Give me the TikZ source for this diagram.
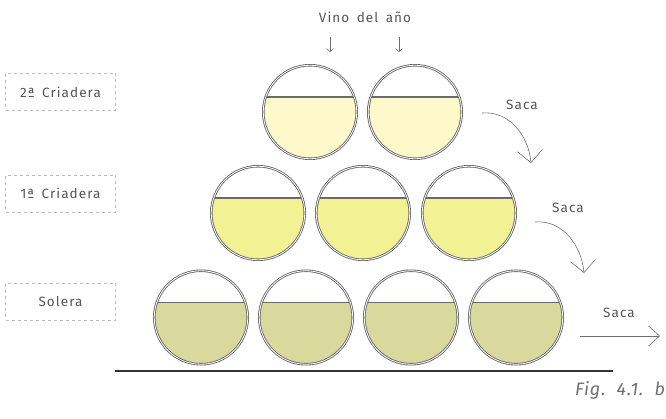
\documentclass[tikz,border=0pt]{standalone}
\usepackage{fontspec}
\setmainfont{Fira Sans}
\newfontfamily\lblfam[LetterSpace=8,WordSpace=1.6]{Fira Sans}
\usetikzlibrary{arrows.meta}
\definecolor{txt}{HTML}{555555}
\definecolor{rim}{HTML}{666666}
\definecolor{chordc}{HTML}{6A6A6A}
\definecolor{arrc}{HTML}{707070}
\definecolor{winetop}{HTML}{FDF9CB}
\definecolor{winemid}{HTML}{F2F193}
\definecolor{winebot}{HTML}{D9D99D}
\definecolor{dashc}{HTML}{BBBBBB}
\newcommand{\lblfont}{\lblfam\fontsize{13.5}{16}\selectfont}
\tikzset{
  barrel/.style={circle, minimum size=93.5pt, inner sep=0pt, outer sep=0pt,
    draw=rim, line width=0.85pt, double=white, double distance=0.8pt,
    path picture={
      \fill[#1] ([yshift=15pt]path picture bounding box.west) rectangle (path picture bounding box.south east);
      \draw[chordc, line width=1.4pt] ([yshift=15pt]path picture bounding box.west) -- ([yshift=15pt]path picture bounding box.east);
    }},
  levelbox/.style={draw=dashc, dash pattern=on 3pt off 3pt, line width=0.8pt,
    minimum width=110pt, minimum height=37pt, inner sep=0pt, text=txt, font=\lblfont},
  lbl/.style={text=txt, font=\lblfont, inner sep=0pt},
  saca/.style={draw=arrc, line width=0.6pt, -{Straight Barb[length=12pt, width=25pt, line width=0.6pt]}},
  small/.style={draw=arrc, line width=0.6pt, -{Straight Barb[length=3pt, width=7pt, line width=0.6pt]}}
}
\begin{document}
\begin{tikzpicture}[x=1pt,y=1pt]
\useasboundingbox (0,0) rectangle (666,-419);
% level boxes
\node[levelbox] (c2) at (60.5,-92) {2ª Criadera};
\node[levelbox] (c1) at (60.5,-193.5) {1ª Criadera};
\node[levelbox] (sol) at (60.5,-301.5) {Solera};
% barrels
\node[barrel=winetop] (t1) at (310,-112) {};
\node[barrel=winetop] (t2) at (415,-112) {};
\node[barrel=winemid] (m1) at (258,-213) {};
\node[barrel=winemid] (m2) at (363,-213) {};
\node[barrel=winemid] (m3) at (469,-213) {};
\node[barrel=winebot] (b1) at (201,-317.5) {};
\node[barrel=winebot] (b2) at (306,-317.5) {};
\node[barrel=winebot] (b3) at (411,-317.5) {};
\node[barrel=winebot] (b4) at (516,-317.5) {};
% ground
\coordinate (g1) at (115,-371);
\coordinate (g2) at (613,-371);
\draw[line width=1.2pt, draw=black!80] (g1) -- (g2);
% vino del año
\node[lbl] (vino) at (365,-17) {Vino del año};
\coordinate (a1s) at (330,-37); \coordinate (a1e) at (330,-52);
\coordinate (a2s) at (399,-37); \coordinate (a2e) at (399,-52);
\draw[small] (a1s) -- (a1e);
\draw[small] (a2s) -- (a2e);
% saca arrows
\node[lbl] (s1) at (522,-105) {Saca};
\node[lbl] (s2) at (568,-208) {Saca};
\node[lbl] (s3) at (619,-313) {Saca};
\coordinate (p1s) at (482,-113); \coordinate (p1e) at (531,-163);
\coordinate (p2s) at (535,-222); \coordinate (p2e) at (584,-273);
\coordinate (p3s) at (580,-336); \coordinate (p3e) at (660,-336);
\draw[saca] (p1s) to[out=5, in=95] (p1e);
\draw[saca] (p2s) to[out=5, in=95] (p2e);
\draw[saca, -{Straight Barb[length=11pt, width=20pt, line width=0.6pt]}] (p3s) -- (p3e);
% caption
\node[text=arrc, font=\fontsize{18}{21}\selectfont\itshape\addfontfeature{LetterSpace=5}, inner sep=0pt] (fig) at (620,-390) {Fig.\ \ 4.1.\ \ b};
\end{tikzpicture}
\end{document}
